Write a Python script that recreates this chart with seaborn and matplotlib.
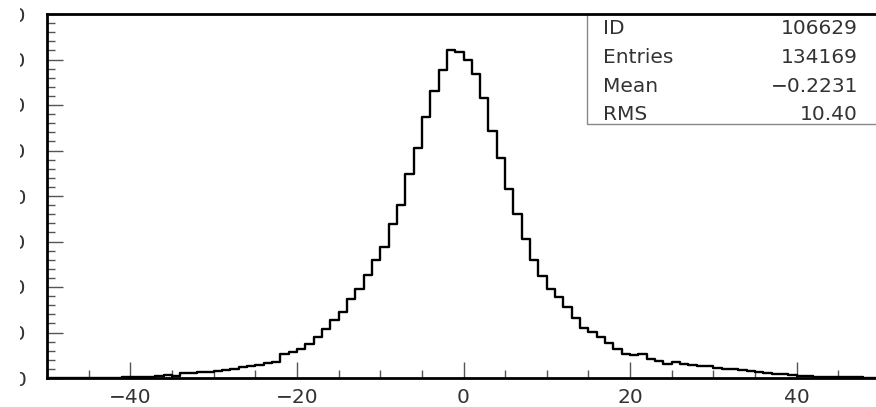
import numpy as np
import pandas as pd
import seaborn as sns
import matplotlib
matplotlib.use("Agg")
import matplotlib.pyplot as plt
from matplotlib.ticker import MultipleLocator
from matplotlib.transforms import Bbox, TransformedBbox
from matplotlib.patches import Rectangle

# ---- data ----
bin_lo = -50
bin_hi = 50
counts = [
    2, 2, 3, 3, 4, 5, 6, 8, 10, 12,
    15, 20, 28, 37, 66, 37, 110, 117, 125, 139,
    154, 183, 205, 242, 256, 293, 330, 359, 520, 571,
    638, 755, 894, 1080, 1268, 1451, 1744, 1955, 2253, 2593,
    2879, 3378, 3811, 4492, 5064, 5736, 6308, 6778, 7202, 7174,
    6998, 6690, 6163, 5429, 4844, 4147, 3598, 3048, 2602, 2235,
    1949, 1785, 1554, 1323, 1103, 1004, 895, 763, 642, 536,
    499, 532, 426, 367, 316, 352, 301, 279, 272, 264,
    220, 191, 206, 169, 147, 125, 110, 97, 81, 66,
    53, 53, 31, 25, 20, 18, 15, 12, 10, 8,
]
stat_names = ["ID", "Entries", "Mean", "RMS"]
stat_values = ["106629", "134169", "\u22120.2231", "10.40"]
x_major = [-40, -20, 0, 20, 40]
y_max = 8000

edges = np.arange(bin_lo, bin_hi + 1, 1.0)
centers = (edges[:-1] + edges[1:]) / 2
df = pd.DataFrame({"x": centers, "w": counts})

sns.set_style("white")
plt.rcParams["font.family"] = ["DejaVu Sans"]

W, H = 876, 407
fig = plt.figure(figsize=(W / 100, H / 100), dpi=100)
# axes: left px 47, right px 880 (beyond the image), top px 14, bottom px 378
ax = fig.add_axes([47 / W, (H - 378) / H, (880 - 47) / W, (378 - 14) / H])

sns.histplot(data=df, x="x", weights="w", binwidth=1, binrange=(bin_lo, bin_hi),
             element="step", fill=False, color="black", linewidth=1.7, ax=ax)

ax.set_xlim(bin_lo, bin_hi)
ax.set_ylim(0, y_max)
ax.set_xlabel("")
ax.set_ylabel("")

for s in ["left", "top", "bottom", "right"]:
    ax.spines[s].set_color("black")
    ax.spines[s].set_linewidth(2.0)
    ax.spines[s].set_zorder(10)

ax.set_xticks(x_major)
ax.xaxis.set_minor_locator(MultipleLocator(5))
ax.yaxis.set_major_locator(MultipleLocator(1000))
ax.yaxis.set_minor_locator(MultipleLocator(200))

ax.tick_params(axis="both", which="both", direction="in", color="#555555",
               width=1.0, labelsize=14.5, labelcolor="#333333",
               bottom=True, left=True, top=False, right=False)
ax.tick_params(axis="both", which="major", length=11.5)
ax.tick_params(axis="both", which="minor", length=5.8)
ax.tick_params(axis="x", which="major", pad=7)
ax.tick_params(axis="y", which="major", pad=15)

# statistics box (PAW style)
box_bottom = (378 - 124) / 364
box = Rectangle((0.6483, box_bottom), 0.40, 1.0 - box_bottom, transform=ax.transAxes,
                facecolor="white", edgecolor="#888888", linewidth=1.0,
                zorder=5, clip_on=False)
ax.add_patch(box)
row_px = [29, 57.5, 86.5, 114.5]
for name, val, ypx in zip(stat_names, stat_values, row_px):
    yy = (378 - ypx) / 364
    ax.text(0.667, yy, name, transform=ax.transAxes, ha="left", va="center",
            fontsize=14.5, color="#333333", zorder=6)
    ax.text(0.9736, yy, val, transform=ax.transAxes, ha="right", va="center",
            fontsize=14.5, color="#333333", zorder=6)

# y tick labels are cut off on the left in the reference
fig.canvas.draw()
clip = TransformedBbox(Bbox([[19.5 / W, 0], [1, 1]]), fig.transFigure)
for lab in ax.get_yticklabels():
    lab.set_clip_box(clip)
    lab.set_clip_on(True)

fig.savefig("out.png", dpi=100)
